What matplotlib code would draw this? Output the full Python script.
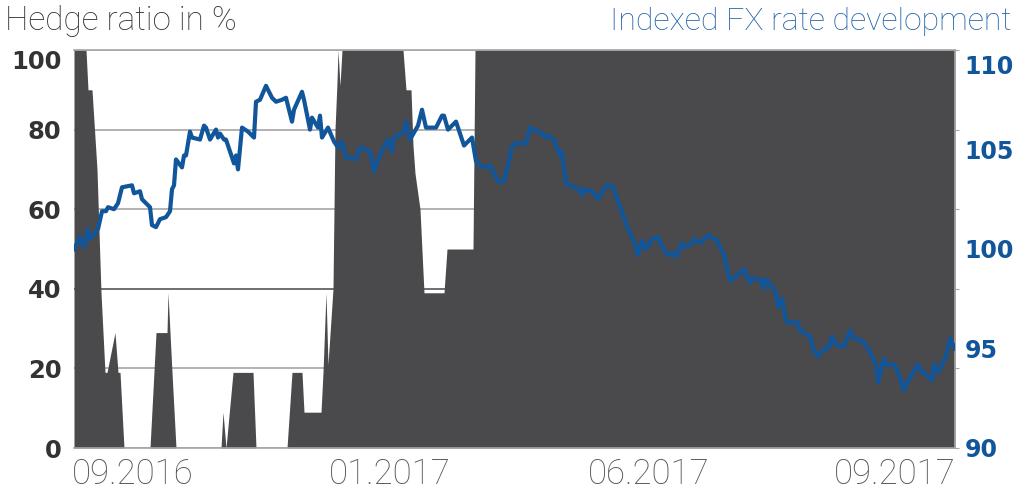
import matplotlib
matplotlib.use("Agg")
import matplotlib.pyplot as plt
import matplotlib.transforms as mtransforms

# x = day index from the left edge of the chart (about Aug 2016 .. Oct 2017)
hedge_day = [0, 6, 7, 9, 11.5, 13.5, 15.5, 16.5, 20.5, 22, 23, 25, 38, 41, 46.5, 47, 49, 51,
             73.5, 74.5, 76, 79.5, 89.5, 91, 106.5, 109, 114, 115, 123.5, 124.5, 126, 127,
             129.5, 130.5, 131.5, 132, 133, 134, 164.5, 166, 168.5, 169.5, 170.5, 173, 175,
             185, 186.5, 199.5, 200.5, 440.5]
hedge_pct = [100, 100, 90, 90, 70, 39, 19, 19, 29, 19, 19, 0, 0, 29, 29, 39, 19, 0,
             0, 9, 0, 19, 19, 0, 0, 19, 19, 9, 9, 19, 39, 21,
             40, 80, 92, 100, 91, 100, 100, 90, 90, 76, 69, 60, 39,
             39, 50, 50, 100, 100]

fx_day = [0, 3, 5, 7, 8, 12, 14, 16, 17, 20, 22, 24, 29, 30, 33, 34, 38, 39, 41, 43,
          46, 48, 49, 50, 51, 54, 55, 56, 58, 59, 63, 65, 66, 68, 71, 72, 73, 75, 76, 78,
          80, 81, 82, 84, 87, 90, 91, 93, 96, 99, 101, 104, 106, 109, 110, 114, 115, 118, 119, 122,
          123, 124, 127, 130, 132, 134, 136, 141, 143, 146, 148, 150, 152, 157, 159, 160, 165, 166, 168, 172,
          174, 176, 181, 184, 185, 187, 191, 195, 199, 201, 203, 206, 208, 212, 215, 219, 220, 224, 226, 228,
          234, 236, 237, 240, 243, 244, 245, 246, 250, 253, 254, 255, 259, 262, 266, 269, 272, 277, 280, 282,
          284, 286, 289, 292, 294, 297, 300, 301, 304, 305, 308, 310, 313, 317, 320, 321, 325, 327, 328, 332,
          335, 338, 339, 343, 345, 346, 349, 351, 352, 354, 356, 357, 362, 363, 365, 368, 370, 372, 375, 377,
          379, 381, 385, 388, 390, 394, 397, 401, 402, 405, 406, 410, 412, 415, 416, 419, 420, 422, 424, 425,
          429, 430, 432, 436, 438, 440.5]
fx_index = [100.0, 100.6, 100.1, 101.0, 100.5, 101.0, 101.9, 101.9, 102.1, 102.0, 102.3, 103.1, 103.2, 102.8, 102.9, 102.5, 102.1, 101.2, 101.1, 101.5,
            101.6, 101.9, 103.0, 103.2, 104.5, 104.1, 104.7, 104.7, 105.9, 105.6, 105.5, 106.2, 106.1, 105.5, 106.0, 105.6, 105.8, 105.5, 105.5, 104.9,
            104.3, 104.7, 104.0, 106.1, 105.9, 105.6, 107.4, 107.5, 108.2, 107.6, 107.4, 107.5, 107.6, 106.4, 107.0, 107.9, 107.5, 106.0, 106.6, 106.1,
            106.7, 105.6, 106.1, 105.4, 105.1, 105.4, 104.6, 104.5, 105.1, 105.0, 104.9, 103.9, 104.5, 105.5, 104.9, 105.6, 105.9, 106.4, 105.5, 106.2,
            107.0, 106.1, 106.1, 106.7, 106.7, 106.0, 106.4, 105.2, 105.6, 104.4, 104.2, 104.1, 104.2, 103.4, 103.4, 105.1, 105.3, 105.3, 105.3, 106.1,
            105.8, 105.6, 105.7, 105.5, 104.7, 104.9, 104.1, 103.3, 103.1, 103.0, 102.7, 103.0, 102.9, 102.5, 103.2, 103.2, 102.4, 101.0, 100.4, 99.7,
            100.4, 100.0, 100.5, 100.6, 100.1, 99.7, 99.8, 99.6, 100.3, 100.1, 100.2, 100.5, 100.3, 100.7, 100.5, 100.5, 99.7, 98.8, 98.4, 98.7,
            99.0, 98.3, 98.5, 98.5, 98.0, 98.5, 98.1, 97.8, 97.1, 97.5, 96.4, 96.3, 96.3, 95.9, 95.8, 95.6, 94.9, 94.6, 95.0, 95.0,
            95.6, 95.2, 95.1, 95.9, 95.5, 95.4, 95.0, 94.2, 93.3, 94.5, 94.2, 94.2, 93.8, 92.9, 93.2, 93.7, 93.9, 94.2, 93.8, 93.8,
            93.4, 94.2, 93.8, 94.6, 95.5, 95.0]

month_ticks = [29.5, 158, 287.5, 410.5]
month_labels = ['09.2016', '01.2017', '06.2017', '09.2017']

hedge_ticks = [0, 20, 40, 60, 80, 100]
fx_ticks = [90, 95, 100, 105, 110]

AREA = '#4a4a4c'
BLUE = '#11559a'
GRID = '#a6a6a6'

fig = plt.figure(figsize=(10.24, 5.04), dpi=100)
ax = fig.add_axes([74 / 1024, 1 - 448 / 504, 881 / 1024, 398 / 504])
ax2 = ax.twinx()

ax.fill_between(hedge_day, 0, hedge_pct, color=AREA, linewidth=0, zorder=2)
ax.set_xlim(0, 440.5)
ax.set_ylim(0, 100)
ax.set_yticks(hedge_ticks)
ax.set_axisbelow(True)
ax.grid(True, axis='y', color=GRID, linewidth=1.2, zorder=0)
ax.get_ygridlines()[2].set_color('#555555')
ax.spines['left'].set_visible(False)
for side in ['top', 'bottom', 'right']:
    ax.spines[side].set_color(GRID)
    ax.spines[side].set_linewidth(1.2)
ax.tick_params(axis='y', left=False, right=True, direction='out', length=3, color=GRID,
               labelsize=17.5, labelcolor='#333333', pad=6)
for lab in ax.get_yticklabels():
    lab.set_fontweight('bold')
ax.get_yticklabels()[-1].set_verticalalignment('top')

ax.set_xticks(month_ticks)
ax.set_xticklabels(month_labels, fontsize=25, color='#555555', family='Roboto', fontweight='light')
ax.tick_params(axis='x', length=0, pad=7)

ax2.plot(fx_day, fx_index, color=BLUE, linewidth=3, solid_joinstyle='round', zorder=3)
ax2.set_ylim(90, 110)
ax2.set_yticks(fx_ticks)
ax2.tick_params(axis='y', length=0, labelsize=17, labelcolor=BLUE, pad=7)
for lab in ax2.get_yticklabels():
    lab.set_fontweight('bold')
for side in ['left', 'top', 'bottom', 'right']:
    ax2.spines[side].set_visible(False)

# top right label sits a bit below the frame in the original
top_tick = ax2.yaxis.get_major_ticks()[-1]
shift = mtransforms.ScaledTranslation(0, -0.15, fig.dpi_scale_trans)
top_tick.label2.set_transform(top_tick.label2.get_transform() + shift)

fig.text(5 / 1024, 1 - 30 / 504, 'Hedge ratio in %', fontsize=24, color='#333333',
         family='Roboto', fontweight='light', ha='left', va='baseline')
fig.text(1012 / 1024, 1 - 30 / 504, 'Indexed FX rate development', fontsize=23, color='#2563a8',
         family='Roboto', fontweight='light', ha='right', va='baseline')

fig.savefig('out.png', dpi=100)
